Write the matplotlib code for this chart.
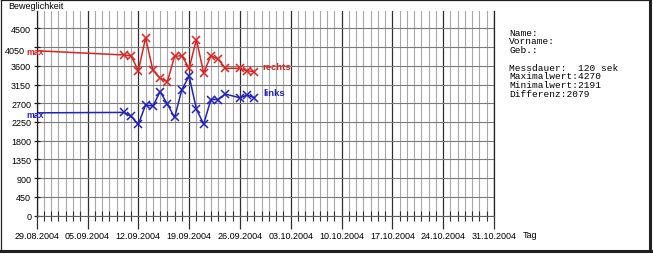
import datetime as dt

import matplotlib
matplotlib.use("Agg")
import matplotlib.pyplot as plt
import matplotlib.dates as mdates
from matplotlib.lines import Line2D
from matplotlib.ticker import FuncFormatter

# ---- data ----
mess_tage = ["10.09.2004", "11.09.2004", "12.09.2004", "13.09.2004", "14.09.2004",
             "15.09.2004", "16.09.2004", "17.09.2004", "18.09.2004", "19.09.2004",
             "20.09.2004", "21.09.2004", "22.09.2004", "23.09.2004", "24.09.2004",
             "26.09.2004", "27.09.2004", "28.09.2004"]
rechts = [3860, 3840, 3480, 4270, 3500, 3300, 3220, 3830, 3840, 3540,
          4230, 3430, 3840, 3760, 3540, 3540, 3480, 3460]
links = [2480, 2390, 2191, 2660, 2630, 2980, 2680, 2360, 3030, 3350,
         2560, 2200, 2790, 2790, 2920, 2830, 2900, 2830]

# line starts at the left edge, no marker there
start_tag = "29.08.2004"
rechts_start = 3960
links_start = 2470

x_von = "29.08.2004"
x_bis = "31.10.2004"
y_ticks = [0, 450, 900, 1350, 1800, 2250, 2700, 3150, 3600, 4050, 4500]
y_max_tick = 4050   # this label sits further left, next to "max"

info_zeilen = ["Name:", "Vorname:", "Geb.:", "",
               "Messdauer:  120 sek", "Maximalwert:4270",
               "Minimalwert:2191", "Differenz:2079"]

RED = "#dd2222"
BLUE = "#2222bb"
W, H = 653, 255
FS = 6.5


def d(s):
    return dt.datetime.strptime(s, "%d.%m.%Y")


def fx(px):
    return px / W


def fy(py):
    return 1 - py / H


plt.rcParams["font.family"] = ["Liberation Sans Narrow", "Liberation Sans", "DejaVu Sans"]

fig = plt.figure(figsize=(W / 100, H / 100), dpi=100)
fig.patch.set_facecolor("white")

ax = fig.add_axes([fx(36.7), fy(216.7), fx(494 - 36.7), (216.7 - 12) / H])
ax.set_xlim(d(x_von), d(x_bis))
ax.set_ylim(0, 4915)

# grid
ax.xaxis.set_major_locator(mdates.WeekdayLocator(byweekday=mdates.SU))
ax.xaxis.set_minor_locator(mdates.DayLocator())
ax.xaxis.set_major_formatter(mdates.DateFormatter("%d.%m.%Y"))
ax.set_yticks(y_ticks)
ax.yaxis.set_major_formatter(FuncFormatter(lambda v, p: "" if v == y_max_tick else f"{v:.0f}"))
ax.grid(which="minor", axis="x", color="#a8a8a8", lw=0.8)
ax.grid(which="major", axis="x", color="#303030", lw=0.9)
ax.grid(which="major", axis="y", color="#7a7a7a", lw=0.8)
ax.set_axisbelow(True)

ax.tick_params(axis="x", which="major", direction="out", length=9.5, width=0.9,
               color="#303030", labelsize=FS, pad=1.2)
ax.tick_params(axis="x", which="minor", direction="inout", length=7, width=0.8,
               color="#303030")
ax.tick_params(axis="y", direction="inout", length=5, width=0.9,
               color="#202020", labelsize=FS, pad=1.5)

for side in ("left", "right"):
    ax.spines[side].set_color("#202020")
    ax.spines[side].set_linewidth(0.9)
ax.spines["bottom"].set_color("#606060")
ax.spines["bottom"].set_linewidth(0.8)
ax.spines["top"].set_visible(False)

# series
tage = [d(s) for s in mess_tage]
for werte, start, col in ((rechts, rechts_start, RED), (links, links_start, BLUE)):
    ax.plot([d(start_tag)] + tage, [start] + werte, color=col, lw=1.1)
    ax.plot(tage, werte, ls="none", marker="x", ms=5.5, mew=1.1, color=col)

# labels in the plot
fig.text(fx(25), fy(52), f"{y_max_tick}", fontsize=FS, ha="right", va="center")
fig.text(fx(26.5), fy(52.5), "max", color=RED, fontsize=6.3, fontweight="bold", va="center")
fig.text(fx(26.5), fy(116), "max", color=BLUE, fontsize=6.3, fontweight="bold", va="center")
fig.text(fx(262), fy(68), "rechts", color=RED, fontsize=6.8, fontweight="bold", va="center")
fig.text(fx(263), fy(93), "links", color=BLUE, fontsize=6.8, fontweight="bold", va="center")

fig.text(fx(8), fy(6.5), "Beweglichkeit", fontsize=FS, va="center")
fig.text(fx(523), fy(236), "Tag", fontsize=FS, va="center")

# info block
y0 = 33.3
for i, zeile in enumerate(info_zeilen):
    fig.text(fx(509), fy(y0 + i * 8.7), zeile, family="Liberation Mono",
             fontsize=6.8, va="center")

# outer frame with shadow
fig.add_artist(Line2D([fx(0.5), fx(0.5)], [fy(0.5), fy(251)], transform=fig.transFigure,
                      color="#202020", lw=0.9))
fig.add_artist(Line2D([fx(0.5), fx(649.5)], [fy(0.5), fy(0.5)], transform=fig.transFigure,
                      color="#202020", lw=0.9))
fig.add_artist(Line2D([fx(649.5), fx(649.5)], [fy(0.5), fy(251.5)], transform=fig.transFigure,
                      color="#202020", lw=2.2))
fig.add_artist(Line2D([fx(0.5), fx(651)], [fy(251.5), fy(251.5)], transform=fig.transFigure,
                      color="#202020", lw=2.2))

fig.savefig("out.png", dpi=100, facecolor="white")
